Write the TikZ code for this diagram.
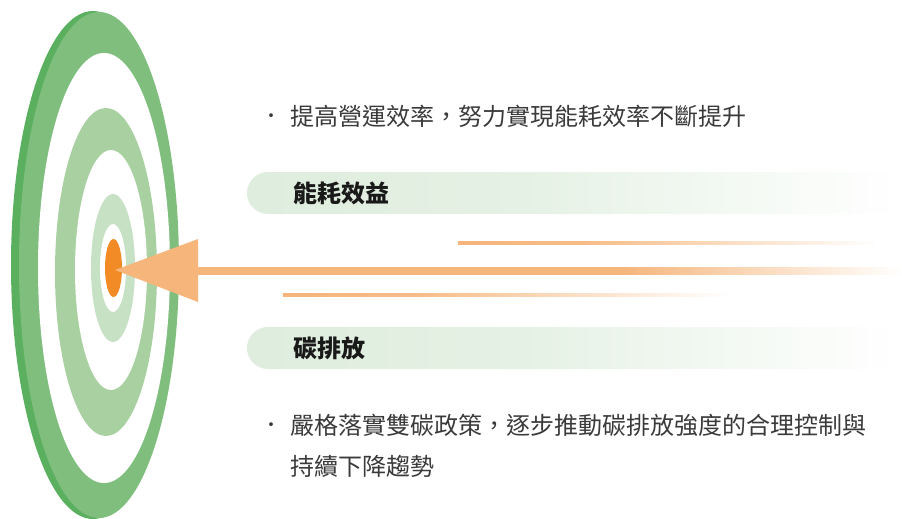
\documentclass[tikz,border=0pt]{standalone}
\usepackage{fontspec}
\newfontfamily\cjk{Noto Sans CJK TC}
\definecolor{darkedge}{HTML}{5AB05F}
\definecolor{ringA}{HTML}{80BE7E}
\definecolor{ringB}{HTML}{A9D0A1}
\definecolor{ringC}{HTML}{C7E1C4}
\definecolor{bullseye}{HTML}{F28A25}
\definecolor{arrowc}{HTML}{F5B57B}
\definecolor{pillg}{HTML}{DEEDDD}
\definecolor{txt}{HTML}{3A3A3A}
\pgfdeclarehorizontalshading{pillfade}{100bp}{color(0bp)=(pillg); color(25bp)=(pillg); color(45bp)=(pillg!80!white); color(75bp)=(white); color(100bp)=(white)}
\pgfdeclarehorizontalshading{shaftfade}{100bp}{color(0bp)=(arrowc); color(25bp)=(arrowc); color(55bp)=(arrowc); color(75bp)=(white); color(100bp)=(white)}
\pgfdeclarehorizontalshading{linefade}{100bp}{color(0bp)=(arrowc); color(25bp)=(arrowc); color(40bp)=(arrowc!90!white); color(75bp)=(white); color(100bp)=(white)}
\tikzset{
  body/.style={font=\cjk\fontsize{24}{29}\selectfont, text=txt, inner sep=0pt, anchor=west},
  title/.style={font=\cjk\bfseries\fontsize{24}{29}\selectfont, text=black!90, inner sep=0pt, anchor=west},
  dot/.style={font=\cjk\fontsize{18}{22}\selectfont, text=txt, inner sep=0pt},
}
\begin{document}
\begin{tikzpicture}[x=1pt,y=-1pt]
\useasboundingbox (0,0) rectangle (902,519);
% pills
\shade[shading=pillfade] (268,172) -- (902,172) -- (902,214) -- (268,214) arc[start angle=90,end angle=270,radius=21] -- cycle;
\shade[shading=pillfade] (268,327) -- (902,327) -- (902,369) -- (268,369) arc[start angle=90,end angle=270,radius=21] -- cycle;
% dartboard
\fill[darkedge] (93,265) ellipse[x radius=82,y radius=254];
\fill[ringA] (99,265) ellipse[x radius=80,y radius=253];
\fill[white] (104,268) ellipse[x radius=66,y radius=215];
\fill[ringB] (106,272) ellipse[x radius=51,y radius=164];
\fill[white] (111,270) ellipse[x radius=36,y radius=120];
\fill[ringC] (113,268) ellipse[x radius=22,y radius=74];
\fill[white] (113,268) ellipse[x radius=13,y radius=44];
\fill[bullseye] (113.5,268) ellipse[x radius=8.5,y radius=29];
% lines
\shade[shading=linefade] (458,241) rectangle (880,244);
\shade[shading=linefade] (283,293) rectangle (730,296);
% arrow
\coordinate (tip) at (115,270);
\coordinate (tail) at (902,270);
\shade[shading=shaftfade] (196,267) rectangle (902,274);
\fill[arrowc] (tip) -- (198,239) -- (198,302) -- cycle;
% texts
\node[dot] (d1) at (271,118) {·};
\node[body] (t1) at (290,116) {提高營運效率，努力實現能耗效率不斷提升};
\node[title] (h1) at (293,193) {能耗效益};
\node[title] (h2) at (293,348) {碳排放};
\node[dot] (d2) at (271,427) {·};
\node[body] (t2) at (290,425) {嚴格落實雙碳政策，逐步推動碳排放強度的合理控制與};
\node[body] (t3) at (290,466) {持續下降趨勢};
\end{tikzpicture}
\end{document}
